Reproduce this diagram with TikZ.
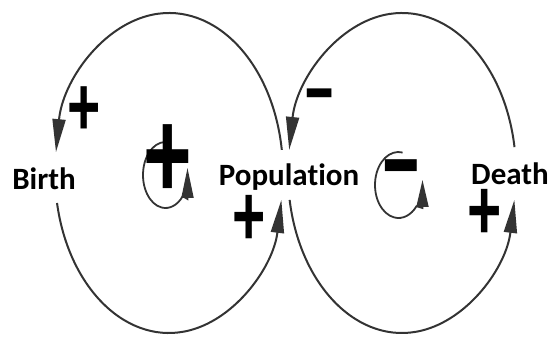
\documentclass[tikz,border=0pt]{standalone}
\usepackage{fontspec}
\setmainfont{Carlito}[Ligatures={NoCommon}]
\newfontfamily\signfont{Liberation Sans}
\usetikzlibrary{arrows.meta}
\begin{document}
\begin{tikzpicture}[x=1pt,y=1pt,
  loopline/.style={line width=2pt, draw=black!80},
  bigarrow/.style={loopline, -{Triangle[length=33pt,width=13pt]}},
  smallloop/.style={loopline, line width=1.8pt},
  smalltip/.style={-{Triangle[length=#1,width=12pt]}},
  lbl/.style={font=\fontsize{31}{31}\selectfont\bfseries, inner sep=0pt, anchor=base},
  sgn/.style={inner sep=0pt, font=\signfont\bfseries\fontsize{57}{57}\selectfont}
]
\useasboundingbox (0,0) rectangle (551,339);
% ellipse centres
\coordinate (cL) at (169,166);
\coordinate (cR) at (402,166);
\coordinate (sL) at (165.5,164);
\coordinate (sR) at (398.5,154);
% small loop arrow ends
\coordinate (sLb) at (187.5,140);
\coordinate (sLt) at (187.5,171);
\coordinate (sRb) at (422.5,131);
\coordinate (sRt) at (422.5,159);
% labels
\node[lbl] (birth) at (44,149) {Birth};
\node[lbl] (pop) at (289,153) {Population};
\node[lbl] (death) at (510,154) {Death};
% big loops
\draw[bigarrow] ([shift={(8.3:114 and 160)}]cL) arc[start angle=8.3, end angle=172.5, x radius=114, y radius=160];
\draw[bigarrow] ([shift={(190.8:114 and 160)}]cL) arc[start angle=190.8, end angle=350.3, x radius=114, y radius=160];
\draw[bigarrow] ([shift={(9.3:114 and 160)}]cR) arc[start angle=9.3, end angle=171.7, x radius=114, y radius=160];
\draw[bigarrow] ([shift={(189.7:114 and 160)}]cR) arc[start angle=189.7, end angle=350.3, x radius=114, y radius=160];
% small loops
\draw[smallloop, smalltip=30pt] ([shift={(80:22.5 and 33)}]sL) arc[start angle=80, end angle=320, x radius=22.5, y radius=33] -- (sLb) -- (sLt);
\draw[smallloop, smalltip=27pt] ([shift={(80:23.5 and 33)}]sR) arc[start angle=80, end angle=320, x radius=23.5, y radius=33] -- (sRb) -- (sRt);
% signs
\node[sgn] (p1) at (84,228) {\scalebox{1}[1.46]{+}};
\node[sgn] (p2) at (167.5,177) {\scalebox{1.46}[2.21]{+}};
\node[sgn] (p3) at (249,119) {\scalebox{1}[1.5]{+}};
\node[sgn] (p4) at (485,125) {\scalebox{1.03}[1.5]{+}};
\node[sgn] (m1) at (320,238) {\scalebox{1.7}[1.3]{-}};
\node[sgn] (m2) at (401.5,163) {\scalebox{2.2}[1.75]{-}};
\end{tikzpicture}
\end{document}
